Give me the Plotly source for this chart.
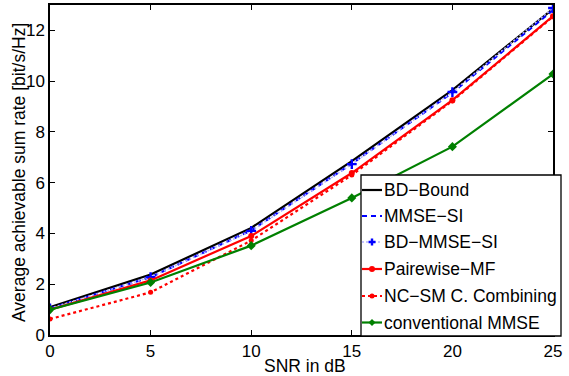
import plotly.graph_objects as go

snr = [0, 5, 10, 15, 20, 25]
bd_bound = [1.10, 2.38, 4.22, 6.85, 9.65, 12.85]
mmse_si = [1.05, 2.28, 4.12, 6.75, 9.55, 12.80]
bd_mmse_si = [1.05, 2.28, 4.10, 6.73, 9.57, 12.88]
pairwise_mf = [1.00, 2.15, 3.90, 6.38, 9.25, 12.56]
ncsm = [0.63, 1.68, 3.72, 6.30, 9.22, 12.54]
conv_mmse = [1.00, 2.07, 3.52, 5.40, 7.42, 10.28]

x_ticks = [0, 5, 10, 15, 20, 25]
y_ticks = [0, 2, 4, 6, 8, 10, 12]

legend_names = ["BD\u2212Bound", "MMSE\u2212SI", "BD\u2212MMSE\u2212SI", "Pairewise\u2212MF",
                "NC\u2212SM C. Combining", "conventional MMSE"]

BLUE = "#0000ff"
PALE = "#b4b4ff"
RED = "#ff0000"
GREEN = "#008000"

styles = [
    dict(line=dict(color="black", width=2.2), mode="lines", marker=None),
    dict(line=dict(color=BLUE, width=2.2, dash="5px,4px"), mode="lines", marker=None),
    dict(line=dict(color=PALE, width=1.5, dash="2px,2px"), mode="lines+markers",
         marker=dict(symbol="cross-thin", size=7, color=BLUE, line=dict(color=BLUE, width=2.4))),
    dict(line=dict(color=RED, width=2.2), mode="lines+markers",
         marker=dict(symbol="circle", size=6, color=RED)),
    dict(line=dict(color=RED, width=2.2, dash="3px,3px"), mode="lines+markers",
         marker=dict(symbol="circle", size=5, color=RED)),
    dict(line=dict(color=GREEN, width=2.2), mode="lines+markers",
         marker=dict(symbol="diamond", size=7, color=GREEN)),
]
series = [bd_bound, mmse_si, bd_mmse_si, pairwise_mf, ncsm, conv_mmse]

fig = go.Figure()
for name, ys, st in zip(legend_names, series, styles):
    kw = dict(x=snr, y=ys, name=name, mode=st["mode"], line=st["line"], showlegend=False)
    if st["marker"] is not None:
        kw["marker"] = st["marker"]
    fig.add_trace(go.Scatter(**kw))

font = "Liberation Sans, Arial, Helvetica, sans-serif"
L, R, T, B = 50, 553, 5, 335
W, H = R - L, B - T


def px(xp):
    return (xp - L) / W


def py(yp):
    return (B - yp) / H


axis_common = dict(showline=True, linecolor="black", linewidth=1.5, mirror="ticks",
                   ticks="inside", ticklen=5, tickcolor="black", showgrid=False,
                   zeroline=False, automargin=False,
                   tickfont=dict(size=17, color="black", family=font))

shapes = []
annotations = []
# custom legend box
shapes.append(dict(type="rect", xref="paper", yref="paper", x0=px(361), x1=px(561),
                   y0=py(336), y1=py(175), fillcolor="white",
                   line=dict(color="black", width=1.3), layer="above"))
row_y = [190, 216, 242, 269, 296, 322.5]
for name, st, ry in zip(legend_names, styles, row_y):
    yy = py(ry)
    ln = st["line"]
    shapes.append(dict(type="line", xref="paper", yref="paper", x0=px(362), x1=px(382),
                       y0=yy, y1=yy, line=dict(color=ln["color"], width=ln["width"],
                                               dash=ln.get("dash", "solid"))))
    mk = st["marker"]
    if mk is not None:
        cx = px(372)
        if mk["symbol"] == "circle":
            r = mk["size"] / 2
            shapes.append(dict(type="circle", xref="paper", yref="paper",
                               xsizemode="pixel", ysizemode="pixel", xanchor=cx, yanchor=yy,
                               x0=-r, x1=r, y0=-r, y1=r, fillcolor=mk["color"],
                               line=dict(color=mk["color"], width=0)))
        elif mk["symbol"] == "cross-thin":
            r = mk["size"] / 2
            shapes.append(dict(type="path", xref="paper", yref="paper",
                               xsizemode="pixel", ysizemode="pixel", xanchor=cx, yanchor=yy,
                               path=f"M{-r},0 L{r},0 M0,{-r} L0,{r}",
                               line=dict(color=mk["color"], width=2.4)))
        elif mk["symbol"] == "diamond":
            r = mk["size"] / 2
            shapes.append(dict(type="path", xref="paper", yref="paper",
                               xsizemode="pixel", ysizemode="pixel", xanchor=cx, yanchor=yy,
                               path=f"M{-r},0 L0,{r} L{r},0 L0,{-r} Z",
                               fillcolor=mk["color"], line=dict(color=mk["color"], width=0)))
    annotations.append(dict(text=name, xref="paper", yref="paper", x=px(382), y=yy,
                            xanchor="left", yanchor="middle", showarrow=False,
                            font=dict(size=17.5, color="black", family=font)))

# axis titles
annotations.append(dict(text="SNR in dB", xref="paper", yref="paper", x=px(305), y=0,
                        xanchor="center", yanchor="top", yshift=-19, showarrow=False,
                        font=dict(size=17.5, color="black", family=font)))
annotations.append(dict(text="Average achievable sum rate [bit/s/Hz]", xref="paper", yref="paper",
                        x=0, xshift=-31, y=py(173), xanchor="center", yanchor="middle",
                        textangle=-90, showarrow=False,
                        font=dict(size=17.5, color="black", family=font)))

fig.update_layout(
    width=569, height=376,
    margin=dict(l=L, r=569 - R, t=T, b=376 - B, autoexpand=False),
    plot_bgcolor="white", paper_bgcolor="white",
    font=dict(family=font, color="black"),
    xaxis=dict(range=[0, 25], tickvals=x_ticks, **axis_common),
    yaxis=dict(range=[0, 13], tickvals=y_ticks, **axis_common),
    showlegend=False,
    shapes=shapes,
    annotations=annotations,
)
fig.write_html("out.html", config={"displayModeBar": False},
               post_script="document.body.style.margin='0px';document.body.style.overflow='hidden';")
